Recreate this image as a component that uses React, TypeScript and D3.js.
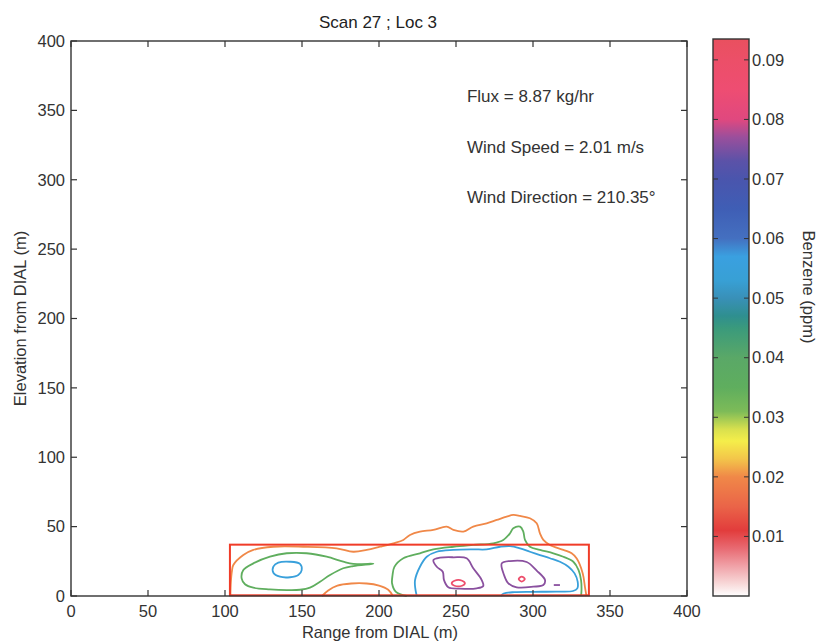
import React from 'react';
import * as d3 from 'd3';

// axes ticks
const xTicks = [0, 50, 100, 150, 200, 250, 300, 350, 400];
const yTicks = [0, 50, 100, 150, 200, 250, 300, 350, 400];
const cbTicks = [0.01, 0.02, 0.03, 0.04, 0.05, 0.06, 0.07, 0.08, 0.09];

// colorbar colour stops (ppm -> colour)
const cbStopValues = [0, 0.002, 0.005, 0.008, 0.011, 0.015, 0.02, 0.023, 0.026, 0.028, 0.031, 0.035, 0.04, 0.045, 0.047, 0.05, 0.053, 0.057, 0.06, 0.065, 0.07, 0.073, 0.077, 0.08, 0.085, 0.09, 0.0935];
const cbStopColors = ['#ffffff', '#f8dada', '#f0a2a8', '#e86a72', '#e23c3c', '#ea6448', '#f08848', '#f3c54a', '#f5ee4a', '#d8e04e', '#7dbb58', '#5fae5e', '#5aa867', '#3a9a7c', '#2f8f8f', '#3990b8', '#38a0d5', '#3aa0e0', '#4470c0', '#3f5eb5', '#4a55ad', '#5b52a8', '#9a4f9c', '#e0487f', '#ee4d72', '#ec4f68', '#e9505f'];

// contour lines, [range m, elevation m]
const orangeOuter = [[103.5, 0], [103.8, 10], [104.5, 18], [105.4, 22.3], [111.9, 29.5], [118.4, 33.2], [131.4, 35.5], [150.8, 35.5], [172.5, 34.4], [183.3, 31.9], [192, 33.2], [200.6, 35.5], [209.3, 38], [215.8, 40.4], [220.1, 44], [226.6, 46.4], [235.3, 47.6], [243.9, 50], [248.3, 47.6], [254.8, 46.4], [261.2, 50], [269.9, 52.4], [276.4, 54.8], [282.9, 57.2], [287.2, 58.4], [291.6, 57.7], [298, 56], [302.4, 52.4], [304.5, 45.2], [306.7, 40.4], [311, 36.8], [319.7, 33.2], [325.1, 30.8], [328.4, 27], [332.3, 16.3], [333.8, 6], [334.7, 0]];
const orangeHole = [[163, 0], [167, 4], [173, 7.5], [182, 9], [192, 9], [200, 7.5], [206, 4.5], [209, 0]];
const greenLeft = [[110.8, 12.7], [111.9, 18.7], [118.4, 23.5], [129.2, 28.3], [140.1, 30.8], [153, 30.8], [166, 28.3], [176.8, 24.7], [183.3, 23.1], [196.3, 23.3], [183.3, 21.6], [176.8, 20], [168.2, 15.1], [161.7, 10.3], [155.2, 6], [148.7, 4.5], [140.1, 4.3], [129.2, 4.8], [118.4, 6], [113, 8.5]];
const greenRight = [[218, 0], [211, 3], [208.5, 9], [208.8, 15], [210, 21], [215.8, 27.2], [226.6, 30.8], [235.3, 33.6], [248.3, 35.5], [261.2, 36.8], [274.2, 38], [280.7, 40.4], [285.1, 45.2], [287.2, 48.8], [291.6, 50], [293.7, 46.4], [294.8, 40.4], [298, 35.5], [304.5, 33.2], [313.2, 30.8], [319.7, 28.3], [326.2, 24.7], [329.6, 18.7], [331.2, 11.5], [331.5, 4.3], [331.2, 0]];
const blueLeft = [[131.4, 21.1], [134.6, 24], [142.2, 24.7], [148.7, 23.1], [149.8, 18.7], [147.6, 15.1], [142.2, 13.5], [135.7, 13.9], [131.4, 16.8]];
const blueRight = [[224.5, 0], [223.5, 6], [223.4, 11.5], [226.6, 21.1], [231, 28.3], [237.5, 31.9], [248.3, 33.2], [261.2, 33.6], [269.9, 33.6], [278.6, 35.5], [285.1, 36], [291.6, 34.4], [298, 31.9], [304.5, 29.5], [311, 27.2], [317.5, 24.7], [323, 21.1], [327, 16.3], [329, 10.3], [328.8, 5.5], [326, 3.6], [315, 3.2], [300, 3], [288, 2.8], [281, 1.8], [279, 0]];
const purpleA = [[235.3, 25.9], [239.6, 27.6], [248.3, 27.9], [256.9, 27.2], [261.2, 20], [266.7, 11.5], [267.7, 7.2], [263.4, 5.5], [252.6, 5.3], [245, 6.3], [242.2, 11.5], [241.4, 17.5], [237.5, 21.1]];
const purpleB = [[279.7, 23.5], [285.1, 25.2], [295.9, 24.5], [302.4, 18.3], [307.8, 11.5], [306.7, 7.9], [300.2, 6.7], [289.4, 6.3], [284, 9.1], [281.2, 15.1]];
const purpleDash = [[313.5, 7.9], [317.5, 7.9]];
const redA = [[247.2, 9.1], [249, 11], [254, 11], [255.8, 9.1], [254, 7.4], [249, 7.4]];
const redB = [[290.7, 12.2], [292.7, 14], [294.7, 12.2], [292.7, 10.4]];

// highlighted region (red box)
const boxRange = [103.2, 336.3];
const boxElev = [0.5, 37];

const notes = ['Flux = 8.87 kg/hr', 'Wind Speed = 2.01 m/s', 'Wind Direction = 210.35\u00b0'];
const noteElev = [356, 319.3, 283.2];

const contours = [
  { level: 0.02, pts: orangeOuter, closed: false },
  { level: 0.02, pts: orangeHole, closed: false },
  { level: 0.035, pts: greenLeft, closed: true },
  { level: 0.035, pts: greenRight, closed: false },
  { level: 0.055, pts: blueLeft, closed: true },
  { level: 0.055, pts: blueRight, closed: false },
  { level: 0.076, pts: purpleA, closed: true },
  { level: 0.076, pts: purpleB, closed: true },
  { level: 0.076, pts: purpleDash, closed: false },
  { level: 0.088, pts: redA, closed: true },
  { level: 0.088, pts: redB, closed: true },
];

const FONT = '"Liberation Sans", Arial, sans-serif';
const AX = '#333';

export default function App() {
  const x = d3.scaleLinear().domain([0, 400]).range([71, 687]);
  const y = d3.scaleLinear().domain([0, 400]).range([596, 41]);
  const cb = d3.scaleLinear().domain([0, 0.0935]).range([596, 39]);
  const color = d3.scaleLinear<string>().domain(cbStopValues).range(cbStopColors).interpolate(d3.interpolateRgb);

  const openLine = d3.line<number[]>().x((d) => x(d[0])).y((d) => y(d[1])).curve(d3.curveCatmullRom);
  const closedLine = d3.line<number[]>().x((d) => x(d[0])).y((d) => y(d[1])).curve(d3.curveCatmullRomClosed);

  const [x0, x1] = x.range();
  const [y0, y1] = y.range();
  const cbL = 713, cbR = 749;
  const tk = 6;
  const fs = 16.5;

  return (
    <svg width={820} height={642} style={{ position: 'absolute', left: 0, top: 0, background: '#fff' }} fontFamily={FONT}>
      <defs>
        <linearGradient id="cbGrad" gradientUnits="userSpaceOnUse" x1={0} y1={cb(0)} x2={0} y2={cb(0.0935)}>
          {cbStopValues.map((v, i) => (
            <stop key={i} offset={v / 0.0935} stopColor={cbStopColors[i]} />
          ))}
        </linearGradient>
      </defs>

      <text x={378} y={28} fontSize={17} textAnchor="middle" fill="#222">Scan 27 ; Loc 3</text>

      {/* contours */}
      <g fill="none" strokeWidth={1.8} strokeLinejoin="round">
        {contours.map((c, i) => (
          <path key={i} d={(c.closed ? closedLine : openLine)(c.pts) || ''} stroke={color(c.level)} />
        ))}
      </g>

      <rect x={x(boxRange[0])} y={y(boxElev[1])} width={x(boxRange[1]) - x(boxRange[0])} height={y(boxElev[0]) - y(boxElev[1])}
        fill="none" stroke="#f03c28" strokeWidth={2} />

      {/* axes box + inward ticks */}
      <rect x={x0} y={y1} width={x1 - x0} height={y0 - y1} fill="none" stroke={AX} strokeWidth={1.4} />
      {xTicks.map((t) => (
        <g key={'x' + t}>
          <line x1={x(t)} x2={x(t)} y1={y0} y2={y0 - tk} stroke={AX} strokeWidth={1.2} />
          <line x1={x(t)} x2={x(t)} y1={y1} y2={y1 + tk} stroke={AX} strokeWidth={1.2} />
          <text x={x(t)} y={617} fontSize={fs} textAnchor="middle" fill="#333">{t}</text>
        </g>
      ))}
      {yTicks.map((t) => (
        <g key={'y' + t}>
          <line x1={x0} x2={x0 + tk} y1={y(t)} y2={y(t)} stroke={AX} strokeWidth={1.2} />
          <line x1={x1} x2={x1 - tk} y1={y(t)} y2={y(t)} stroke={AX} strokeWidth={1.2} />
          <text x={65} y={y(t)} dy="0.35em" fontSize={fs} textAnchor="end" fill="#333">{t}</text>
        </g>
      ))}

      <text x={380} y={638} fontSize={fs} textAnchor="middle" fill="#333">Range from DIAL (m)</text>
      <text transform={`translate(26,${(y0 + y1) / 2}) rotate(-90)`} fontSize={fs} textAnchor="middle" fill="#333">Elevation from DIAL (m)</text>

      {notes.map((n, i) => (
        <text key={n} x={x(257.1)} y={y(noteElev[i])} fontSize={17} fill="#333">{n}</text>
      ))}

      {/* colorbar */}
      <rect x={cbL} y={cb(0.0935)} width={cbR - cbL} height={cb(0) - cb(0.0935)} fill="url(#cbGrad)" stroke={AX} strokeWidth={1.4} />
      {cbTicks.map((t) => (
        <g key={'c' + t}>
          <line x1={cbL} x2={cbL + 5} y1={cb(t)} y2={cb(t)} stroke={AX} strokeWidth={1} />
          <line x1={cbR} x2={cbR - 5} y1={cb(t)} y2={cb(t)} stroke={AX} strokeWidth={1} />
          <text x={cbR + 3} y={cb(t)} dy="0.35em" fontSize={fs} fill="#333">{t.toFixed(2)}</text>
        </g>
      ))}
      <text transform={`translate(803,${287}) rotate(90)`} fontSize={fs} textAnchor="middle" fill="#333">Benzene (ppm)</text>
    </svg>
  );
}
